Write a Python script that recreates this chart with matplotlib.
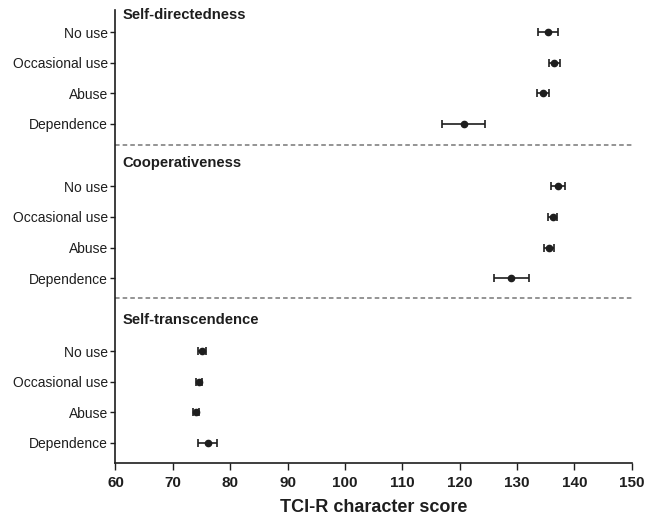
import matplotlib
matplotlib.use("Agg")
import matplotlib.pyplot as plt

plt.rcParams['font.family'] = ['Liberation Sans', 'DejaVu Sans']

# ---- data ----
groups = ["Self-directedness", "Cooperativeness", "Self-transcendence"]
categories = ["No use", "Occasional use", "Abuse", "Dependence"]
means = {
    "Self-directedness": [135.4, 136.5, 134.5, 120.7],
    "Cooperativeness": [137.2, 136.2, 135.6, 129.0],
    "Self-transcendence": [75.1, 74.6, 74.1, 76.1],
}
errors = {
    "Self-directedness": [1.75, 0.95, 1.1, 3.75],
    "Cooperativeness": [1.2, 0.75, 0.85, 3.05],
    "Self-transcendence": [0.7, 0.5, 0.5, 1.65],
}
xticks = [60, 70, 80, 90, 100, 110, 120, 130, 140, 150]
xlabel = "TCI-R character score"

# ---- layout ----
group_start = [0.0, 5.04, 10.42]
title_y = [-0.55, 4.28, 9.41]
sep_y = [3.69, 8.69]

fig = plt.figure(figsize=(6.56, 5.2), dpi=100)
ax = fig.add_axes([0.176, 0.1096, 0.787, 0.871])
col = "#1e1e1e"

yt, yl = [], []
for g, y0, ty in zip(groups, group_start, title_y):
    ys = [y0 + i for i in range(len(categories))]
    ax.errorbar(means[g], ys, xerr=errors[g], fmt='o', color=col, ms=4.5,
                ecolor=col, elinewidth=1.2, capsize=3.2, capthick=1.2, zorder=3)
    ax.text(61.2, ty, g, fontsize=10.6, fontweight='bold', color=col,
            va='center', ha='left')
    yt += ys
    yl += categories

for s in sep_y:
    ax.axhline(s, color="#777777", lw=1.1, ls=(0, (3, 2)), xmin=0, xmax=1)

ax.set_xlim(60, 150)
ax.set_ylim(14.08, -0.72)
ax.set_yticks(yt)
ax.set_yticklabels(yl, fontsize=10, color=col)
ax.set_xticks(xticks)
ax.set_xticklabels([str(v) for v in xticks], fontsize=11, fontweight='bold', color=col)
ax.set_xlabel(xlabel, fontsize=13, fontweight='bold', color=col, labelpad=7)

for sp in ["top", "right"]:
    ax.spines[sp].set_visible(False)
for sp in ["left", "bottom"]:
    ax.spines[sp].set_color(col)
    ax.spines[sp].set_linewidth(1.2)
ax.tick_params(axis='y', length=3.5, width=1.0, color=col, pad=2)
ax.tick_params(axis='x', length=5, width=1.0, color=col, pad=4)

fig.savefig("out.png", dpi=100)
